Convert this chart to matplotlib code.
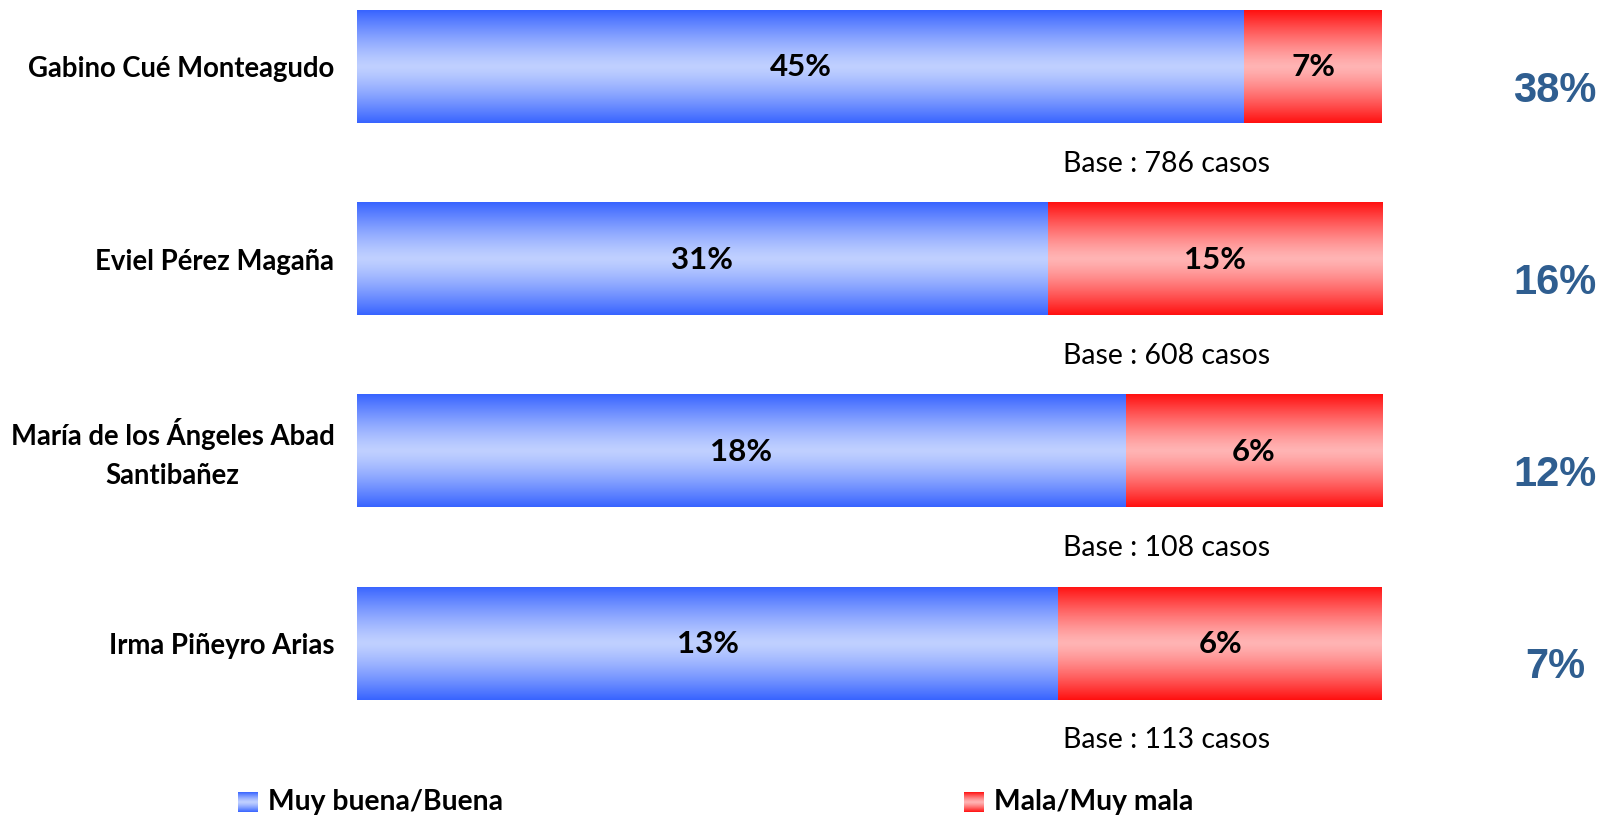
import numpy as np
import matplotlib.pyplot as plt

# data
names = ["Gabino Cué Monteagudo", "Eviel Pérez Magaña",
         "María de los Ángeles Abad\nSantibañez", "Irma Piñeyro Arias"]
buena = [45, 31, 18, 13]
mala = [7, 15, 6, 6]
saldo = ["38%", "16%", "12%", "7%"]
bases = [786, 608, 108, 113]
legend_labels = ["Muy buena/Buena", "Mala/Muy mala"]

blue_edge, blue_mid = np.array([0x38, 0x64, 0xFF]) / 255, np.array([0xC0, 0xD0, 0xFF]) / 255
red_edge, red_mid = np.array([0xFF, 0x10, 0x10]) / 255, np.array([0xFF, 0xB4, 0xB4]) / 255


def gradient(edge, mid, n=200):
    t = np.abs(np.linspace(-1, 1, n)) ** 1.3
    g = mid[None, :] * (1 - t[:, None]) + edge[None, :] * t[:, None]
    return g[:, None, :]


fig = plt.figure(figsize=(16.02, 8.15), dpi=100)
W, H = 1602, 815
x0, x1 = 357, 1382
ax = fig.add_axes([x0 / W, 0, (x1 - x0) / W, 1])
ylo, yhi = -66.5 / 192.2, (815 - 66.5) / 192.2

tot = np.array(buena) + np.array(mala)
b_share = np.array(buena) / tot * 100
m_share = np.array(mala) / tot * 100
y = np.arange(len(names))
h = 113 / 192.2

bars_b = ax.barh(y, b_share, height=h, color="none", edgecolor="none")
bars_m = ax.barh(y, m_share, left=b_share, height=h, color="none", edgecolor="none")

for bars, edge, mid in [(bars_b, blue_edge, blue_mid), (bars_m, red_edge, red_mid)]:
    for p in bars:
        bx, by = p.get_x(), p.get_y()
        im = ax.imshow(gradient(edge, mid), extent=[bx, bx + p.get_width(), by + p.get_height(), by],
                       aspect="auto", interpolation="bilinear", zorder=2)
        im.set_clip_path(p)

font = "Lato"
for i in range(len(names)):
    ax.text(b_share[i] / 2, y[i] + 0.005, f"{buena[i]}%", ha="center", va="center",
            fontsize=22.5, fontweight="bold", family=font, zorder=3)
    ax.text(b_share[i] + m_share[i] / 2, y[i] + 0.005, f"{mala[i]}%", ha="center", va="center",
            fontsize=22.5, fontweight="bold", family=font, zorder=3)
    ax.text(-2.2, y[i] + 0.015, names[i], ha="right", va="center", multialignment="center",
            fontsize=19.8, fontweight="bold", family=font, clip_on=False, linespacing=1.6)
    ax.text(68.9, y[i] + 0.505, f"Base : {bases[i]} casos", ha="left", va="center",
            fontsize=20.5, family=font, clip_on=False)
    ax.text(116.9, y[i] + 0.125, saldo[i], ha="center", va="center", fontsize=30,
            fontweight="bold", family="Liberation Sans", color="#2F5E90", clip_on=False)

# legend
leg_y = (802 - 66.5) / 192.2
sq = 20 / 192.2
for xs, edge, mid, lab in [(-11.6, blue_edge, blue_mid, legend_labels[0]),
                           (59.2, red_edge, red_mid, legend_labels[1])]:
    ax.imshow(gradient(edge, mid), extent=[xs, xs + 20 / 1025 * 100, leg_y + sq / 2, leg_y - sq / 2],
              aspect="auto", interpolation="bilinear", clip_on=False, zorder=2)
    ax.text(xs + 30 / 1025 * 100, leg_y, lab, ha="left", va="center", fontsize=20.3,
            fontweight="bold", family=font, clip_on=False)

ax.set_xlim(0, 100)
ax.set_ylim(yhi, ylo)
ax.axis("off")

fig.savefig("out.png", dpi=100)
